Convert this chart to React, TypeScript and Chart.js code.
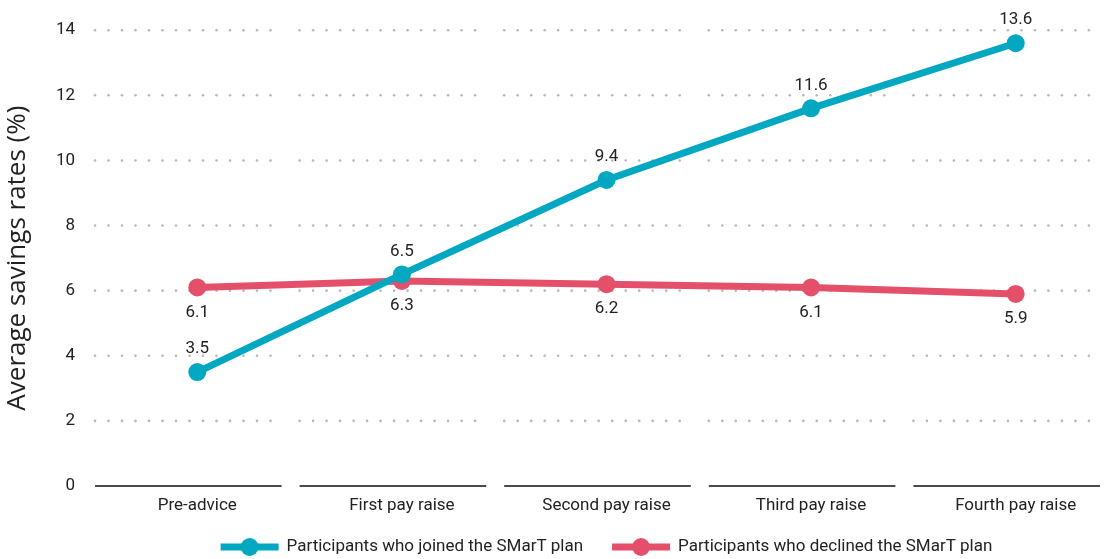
import React, { useEffect, useRef } from "react";
import { Chart, registerables } from "chart.js";

Chart.register(...registerables);

const categories = ["Pre-advice", "First pay raise", "Second pay raise", "Third pay raise", "Fourth pay raise"];
const joinedValues = [3.5, 6.5, 9.4, 11.6, 13.6];
const declinedValues = [6.1, 6.3, 6.2, 6.1, 5.9];
const seriesNames = ["Participants who joined the SMarT plan", "Participants who declined the SMarT plan"];
const yTicks = [0, 2, 4, 6, 8, 10, 12, 14];
const yTitle = "Average savings rates (%)";

const TEAL = "#02a8c1";
const RED = "#e4506a";
const TEXT = "#222222";
const FONT = "Roboto, 'Liberation Sans', sans-serif";
const TITLE_FONT = "'Open Sans', Roboto, sans-serif";
const SEG_GAP = 18;

const segGridPlugin = {
  id: "segGrid",
  beforeDatasetsDraw(chart: any) {
    const { ctx, scales } = chart;
    const x = scales.x;
    const y = scales.y;
    const n = categories.length;
    const w = (x.right - x.left) / n;
    ctx.save();
    for (let i = 0; i < n; i++) {
      const x0 = x.left + w * i;
      const x1 = x0 + w - SEG_GAP;
      yTicks.forEach((t) => {
        const py = y.getPixelForValue(t);
        if (t === 0) {
          ctx.strokeStyle = "#111111";
          ctx.lineWidth = 1.5;
          ctx.beginPath();
          ctx.moveTo(x0, py);
          ctx.lineTo(x1, py);
          ctx.stroke();
        } else {
          ctx.fillStyle = "#b8b8b8";
          for (let px = x0; px <= x1; px += 13.5) {
            ctx.beginPath();
            ctx.arc(px, py, 1.3, 0, Math.PI * 2);
            ctx.fill();
          }
        }
      });
    }
    ctx.restore();
  },
};

const valueLabelPlugin = {
  id: "valueLabels",
  afterDatasetsDraw(chart: any) {
    const { ctx } = chart;
    ctx.save();
    ctx.font = `17px ${FONT}`;
    ctx.fillStyle = TEXT;
    ctx.textAlign = "center";
    ctx.textBaseline = "middle";
    chart.data.datasets.forEach((ds: any, di: number) => {
      const meta = chart.getDatasetMeta(di);
      meta.data.forEach((pt: any, i: number) => {
        const v = ds.data[i];
        const dy = di === 0 ? -23 : 25;
        ctx.fillText(v.toFixed(1), pt.x, pt.y + dy);
      });
    });
    ctx.restore();
  },
};

const customLegendPlugin = {
  id: "customLegend",
  afterDraw(chart: any) {
    const { ctx, chartArea } = chart;
    const colors = [TEAL, RED];
    const iconW = 58;
    const textGap = 8;
    const itemGap = 29;
    ctx.save();
    ctx.font = `17px ${FONT}`;
    const widths = seriesNames.map((s) => iconW + textGap + ctx.measureText(s).width);
    const total = widths.reduce((a, b) => a + b, 0) + itemGap * (widths.length - 1);
    let cx = (chartArea.left + chartArea.right) / 2 - total / 2;
    const cy = 547;
    seriesNames.forEach((name, i) => {
      ctx.strokeStyle = colors[i];
      ctx.lineWidth = 7;
      ctx.beginPath();
      ctx.moveTo(cx, cy);
      ctx.lineTo(cx + iconW, cy);
      ctx.stroke();
      ctx.fillStyle = colors[i];
      ctx.beginPath();
      ctx.arc(cx + iconW / 2, cy, 9, 0, Math.PI * 2);
      ctx.fill();
      ctx.fillStyle = TEXT;
      ctx.textAlign = "left";
      ctx.textBaseline = "middle";
      ctx.fillText(name, cx + iconW + textGap, cy);
      cx += widths[i] + itemGap;
    });
    ctx.restore();
  },
};

export default function App() {
  const ref = useRef<HTMLCanvasElement | null>(null);

  useEffect(() => {
    if (!ref.current) return;
    const chart = new Chart(ref.current, {
      type: "line",
      data: {
        labels: categories,
        datasets: [
          {
            label: seriesNames[0],
            data: joinedValues,
            borderColor: TEAL,
            backgroundColor: TEAL,
            borderWidth: 7,
            pointRadius: 9,
            pointHoverRadius: 9,
            pointBorderWidth: 0,
            tension: 0,
          },
          {
            label: seriesNames[1],
            data: declinedValues,
            borderColor: RED,
            backgroundColor: RED,
            borderWidth: 7,
            pointRadius: 9,
            pointHoverRadius: 9,
            pointBorderWidth: 0,
            tension: 0,
          },
        ],
      },
      options: {
        animation: false,
        responsive: false,
        maintainAspectRatio: false,
        layout: { padding: { top: 28, left: 0, right: 0, bottom: 0 } },
        plugins: {
          tooltip: { enabled: false },
          legend: { display: false },
        },
        scales: {
          x: {
            type: "category",
            offset: true,
            afterFit: (s: any) => {
              s.height = 73;
            },
            grid: { display: false, drawTicks: false },
            border: { display: false },
            ticks: { color: TEXT, font: { family: FONT, size: 17 }, padding: 10 },
          },
          y: {
            min: 0,
            max: 14,
            afterFit: (s: any) => {
              s.width = 95;
            },
            afterBuildTicks: (s: any) => {
              s.ticks = yTicks.map((v) => ({ value: v }));
            },
            grid: { display: false, drawTicks: false },
            border: { display: false },
            ticks: { color: TEXT, font: { family: FONT, size: 17 }, padding: 20 },
            title: {
              display: true,
              text: yTitle,
              color: TEXT,
              font: { family: TITLE_FONT, size: 26 },
              padding: { top: 2, bottom: 4 },
            },
          },
        },
      },
      plugins: [segGridPlugin, valueLabelPlugin, customLegendPlugin],
    });
    return () => chart.destroy();
  }, []);

  return (
    <div style={{ position: "absolute", left: 0, top: 0, width: 1115, height: 559, overflow: "hidden" }}>
      <canvas ref={ref} width={1127} height={559} style={{ display: "block", width: 1127, height: 559 }} />
    </div>
  );
}
